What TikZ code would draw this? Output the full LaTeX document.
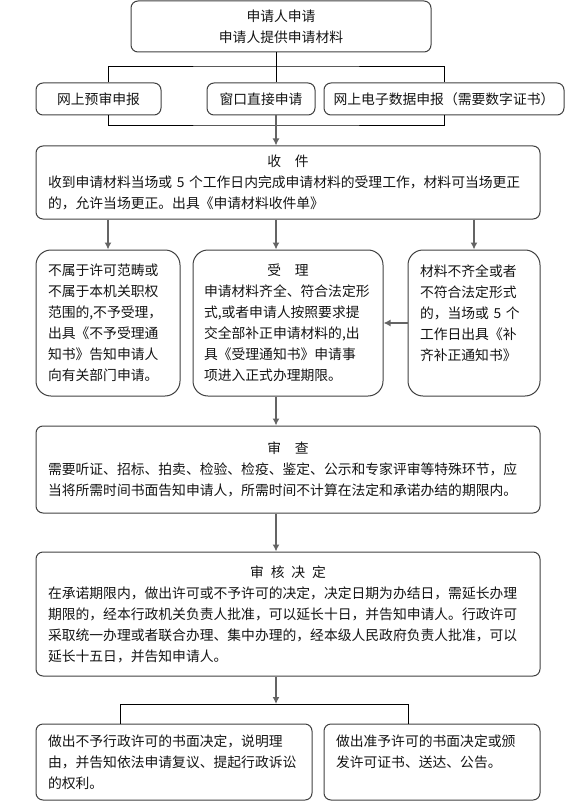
\documentclass[tikz,border=0pt]{standalone}
\usepackage{fontspec}
\setmainfont{Noto Sans CJK SC}
\definecolor{boxgray}{RGB}{64,64,64}
\definecolor{arrowgray}{RGB}{100,100,100}
\definecolor{textgray}{RGB}{20,20,20}
\usetikzlibrary{arrows.meta}

\begin{document}
\begin{tikzpicture}[x=1pt,y=-1pt,
    every node/.style={font=\fontsize{13.8}{21}\selectfont,text=textgray},
    box/.style={draw=boxgray,line width=1pt,rounded corners=7pt,inner xsep=12pt,inner ysep=0pt,align=left},
    roundbox/.style={box,rounded corners=15pt},
    branch/.style={black,line width=0.8pt},
    flow/.style={arrowgray,line width=1.4pt,-{Latex[length=7pt,width=7pt]}}
    ]
    \useasboundingbox (0,0) rectangle (565,805);

    % application and the three ways in
    \node[box,align=center,minimum width=300pt,minimum height=51pt] (apply) at (281,26.5)
        {申请人申请\\申请人提供申请材料};
    \node[box,minimum width=125pt,minimum height=32pt] (web) at (98.5,99) {网上预审申报};
    \node[box,inner xsep=6pt,minimum width=108pt,minimum height=32pt] (win) at (261,99) {窗口直接申请};
    \node[box,inner xsep=6pt,minimum width=240pt,minimum height=32pt] (elec) at (444,99)
        {网上电子数据申报（需要数字证书）};

    % receiving
    \node[box,minimum width=504pt,minimum height=73pt,text width=480pt] (recv) at (288,182.5)
        {\makebox[\hsize]{收\quad 件}\\
         收到申请材料当场或 5 个工作日内完成申请材料的受理工作，材料可当场更正\\
         的，允许当场更正。出具《申请材料收件单》};

    % the three outcomes
    \node[roundbox,minimum width=144pt,minimum height=146pt,text width=120pt] (reject) at (108,323)
        {不属于许可范畴或\\不属于本机关职权\\范围的,不予受理，\\出具《不予受理通\\知书》告知申请人\\向有关部门申请。};
    \node[roundbox,inner xsep=11pt,minimum width=190pt,minimum height=146pt,text width=168pt] (accept) at (288,323)
        {\makebox[\hsize]{受\quad 理}\\
         申请材料齐全、符合法定形\\式,或者申请人按照要求提\\交全部补正申请材料的,出\\具《受理通知书》申请事\\项进入正式办理期限。};
    \node[roundbox,minimum width=132pt,minimum height=146pt,text width=108pt] (supp) at (474,323)
        {材料不齐全或者\\不符合法定形式\\的，当场或 5 个\\工作日出具《补\\齐补正通知书》\\ \mbox{}};

    % review
    \node[box,minimum width=504pt,minimum height=87pt,text width=480pt] (review) at (288,469.5)
        {\makebox[\hsize]{审\quad 查}\\
         需要听证、招标、拍卖、检验、检疫、鉴定、公示和专家评审等特殊环节，应\\
         当将所需时间书面告知申请人，所需时间不计算在法定和承诺办结的期限内。};

    % decision
    \node[box,minimum width=504pt,minimum height=124pt,text width=480pt] (decide) at (288,614)
        {\makebox[\hsize]{审\enspace 核\enspace 决\enspace 定}\\
         在承诺期限内，做出许可或不予许可的决定，决定日期为办结日，需延长办理\\
         期限的，经本行政机关负责人批准，可以延长十日，并告知申请人。行政许可\\
         采取统一办理或者联合办理、集中办理的，经本级人民政府负责人批准，可以\\
         延长十五日，并告知申请人。};

    % final results
    \node[box,minimum width=276pt,minimum height=76pt,text width=252pt] (deny) at (174,762)
        {做出不予行政许可的书面决定，说明理\\由，并告知依法申请复议、提起行政诉讼\\的权利。};
    \node[box,minimum width=216pt,minimum height=76pt,text width=192pt] (grant) at (432,762)
        {做出准予许可的书面决定或颁\\发许可证书、送达、公告。\\ \mbox{}};

    % the connectors
    \coordinate (split) at (276,66);
    \coordinate (join) at (276,125);
    \coordinate (fork) at (276,704);
    \coordinate (forkL) at (120,704);
    \coordinate (forkR) at (408,704);

    \draw[branch] (apply.south -| split) -- (win.north -| split);
    \draw[branch] (web.north -| reject) |- (split) -| (elec.north);
    \draw[branch] (web.south -| reject) |- (join) -| (elec.south);
    \draw[flow] (win.south -| split) -- (recv.north -| split);
    \draw[flow] (recv.south -| reject) -- (reject.north);
    \draw[flow] (recv.south -| split) -- (accept.north -| split);
    \draw[flow] (recv.south -| supp) -- (supp.north);
    \draw[flow] (supp.west) -- (accept.east);
    \draw[flow] (accept.south -| split) -- (review.north -| split);
    \draw[flow] (review.south -| split) -- (decide.north -| split);
    \draw[flow] (decide.south -| split) -- (fork);
    \draw[branch] (deny.north -| forkL) -- (forkL) -- (forkR) -- (grant.north -| forkR);
\end{tikzpicture}
\end{document}
